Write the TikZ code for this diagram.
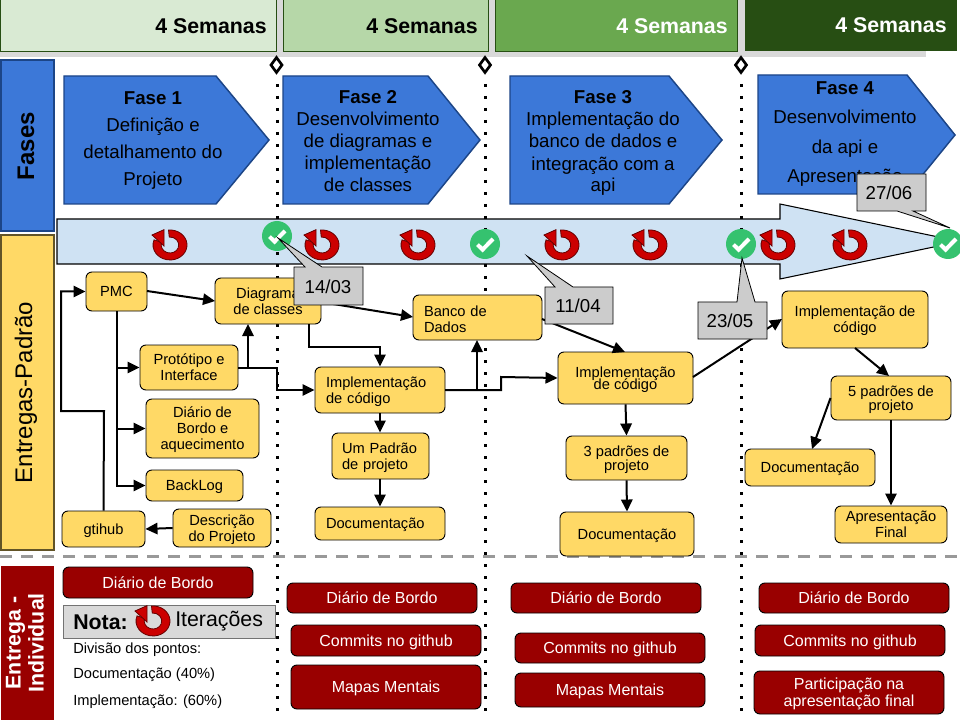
\documentclass[tikz,border=0pt]{standalone}
\usepackage{fontspec}
\setmainfont{Liberation Sans}
\usetikzlibrary{arrows.meta}
\definecolor{hA}{HTML}{D9EAD3}
\definecolor{hB}{HTML}{B6D7A8}
\definecolor{hC}{HTML}{6AA84F}
\definecolor{hD}{HTML}{274E13}
\definecolor{fblue}{HTML}{3C78D8}
\definecolor{fblueD}{HTML}{1C4587}
\definecolor{yel}{HTML}{FFD966}
\definecolor{dred}{HTML}{990000}
\definecolor{band}{HTML}{CFE2F3}
\definecolor{okgreen}{HTML}{35C26F}
\definecolor{iterred}{HTML}{CC0000}
\newcommand{\tightlines}{\lineskiplimit=-10pt\relax}
\tikzset{
  x=.75pt,y=-.75pt,
  header/.style={draw=hD,line width=.75pt},
  headtext/.style={font=\fontsize{16}{18}\selectfont\bfseries,anchor=east,inner sep=0pt,text height=11.5pt,text depth=0pt},
  sidebox/.style={line width=1.1pt},
  phase/.style={fill=fblue,draw=fblueD,line width=1.1pt},
  phasetext/.style={font=\fontsize{14}{16}\selectfont,inner sep=0pt,align=center,text height=10pt,text depth=0pt},
  phasebold/.style={font=\fontsize{14}{16}\selectfont\bfseries,inner sep=0pt,align=center,text height=10pt,text depth=0pt},
  yellowbox/.style={draw=black,fill=yel,rounded corners=4.5pt,line width=.7pt,align=center,inner sep=0pt,font=\fontsize{11}{12}\selectfont,text depth=0pt},
  yellowleft/.style={draw=black,fill=yel,rounded corners=4.5pt,line width=.7pt,align=left,inner sep=0pt,font=\fontsize{11}{12}\selectfont,execute at begin node=\rule{0pt}{10.5pt}},
  redbox/.style={draw=black,fill=dred,text=white,rounded corners=4.5pt,line width=.7pt,align=center,inner sep=0pt,font=\fontsize{12}{12.75}\selectfont,text depth=0pt},
  flow/.style={draw=black,line width=1.5pt,-{Triangle[length=9pt,width=8.5pt]}},
  flowplain/.style={draw=black,line width=1.5pt},
  milestone/.style={draw=black,line width=2.25pt,dash pattern=on 2.25pt off 6.75pt},
  callout/.style={fill=black!20,draw=black,line width=.6pt},
  calltext/.style={font=\fontsize{14}{16}\selectfont,inner sep=0pt,text height=10pt,text depth=0pt},
  plain/.style={inner sep=0pt,anchor=west,font=\fontsize{11}{12}\selectfont,text height=8pt,text depth=0pt},
  okcircle/.pic={
    \fill[okgreen] (0,0) circle[radius=11.25pt];
    \draw[white,line width=3pt] (-5.6pt,-.5pt) -- (-1.8pt,-4.2pt) -- (6pt,3.8pt);
  },
  iter/.pic={
    \path[fill=iterred,draw=black!60!red,line width=.6pt]
      (95:12.75pt and 11.25pt) arc[start angle=95,end angle=-200,x radius=12.75pt,y radius=11.25pt]
      -- (-200:6.6pt and 6pt) arc[start angle=-200,end angle=95,x radius=6.6pt,y radius=6pt] -- cycle;
    \path[fill=iterred,draw=black!60!red,line width=.6pt]
      (-13.5pt,7.5pt) -- (-4.5pt,11.5pt) -- (-4.5pt,-.75pt) -- cycle;
  },
  gate/.style={fill=white,draw=black,line width=2pt,line join=miter}
}
\newcommand{\bx}[7][0]{%
  \pgfmathsetmacro\bxcx{(#4+#6)/2}%
  \pgfmathsetmacro\bxcy{(#5+#7)/2}%
  \pgfmathsetmacro\bxw{(#6-#4)*.75}%
  \pgfmathsetmacro\bxh{(#7-#5)*.75}%
  \bxbody{#1}{#2}{#3}}
\newcommand{\bxbody}[4]{%
  \ifnum#1=0
    \node[#2,minimum width=\bxw pt,minimum height=\bxh pt] (#3) at (\bxcx,\bxcy) {#4};
  \else
    \pgfmathsetmacro\bxtw{\bxw-2*#1*.75}%
    \node[#2,minimum height=\bxh pt,text width=\bxtw pt,inner xsep=#1*.75pt] (#3) at (\bxcx,\bxcy) {#4};
  \fi}
\begin{document}
\begin{tikzpicture}
\useasboundingbox (0,0) rectangle (960,720);
\clip (0,0) rectangle (960,720);
\fill[white] (0,0) rectangle (960,720);
% header shadow
\fill[black!15] (0,0) rectangle (926,57);
\fill[white] (926,0) rectangle (960,51);
% headers
\bx{header,fill=hA}{h1}{0}{0}{276}{52}{}
\bx{header,fill=hB}{h2}{283}{0}{488}{52}{}
\bx{header,fill=hC}{h3}{495}{0}{737}{52}{}
\bx{draw=none,fill=hD}{h4}{745}{0}{957}{51}{}
\node[headtext] (ht1) at (267,26) {4 Semanas};
\node[headtext] (ht2) at (478,26) {4 Semanas};
\node[headtext,text=white] (ht3) at (728,26) {4 Semanas};
\node[headtext,text=white] (ht4) at (947,25) {4 Semanas};
% side bars
\bx{sidebox,fill=fblue,draw=fblueD}{sfases}{1}{60}{54}{231}{}
\bx{sidebox,fill=yel,draw=black!45!yel!70!black}{sentregas}{1}{235}{54}{550}{}
\bx{draw=none,fill=dred}{sind}{1}{566}{54}{720}{}
\node[rotate=90,font=\fontsize{18}{20}\selectfont\bfseries,inner sep=0pt] (tf) at (26,146) {Fases};
\node[rotate=90,font=\fontsize{18}{20}\selectfont,inner sep=0pt] (te) at (26,392.5) {Entregas-Padrão};
\node[rotate=90,font=\fontsize{16}{17.25}\selectfont\bfseries,text=white,inner sep=0pt,align=center] (ti) at (25,643) {Entrega -\\Individual};
% phases
\path[phase] (64,76) -- (216,76) -- (269,140) -- (216,204) -- (64,204) -- cycle;
\path[phase] (283,76) -- (428,76) -- (480,140) -- (428,204) -- (283,204) -- cycle;
\path[phase] (510,76) -- (669,76) -- (722,140) -- (669,204) -- (510,204) -- cycle;
\path[phase] (758,75) -- (907,75) -- (955,135) -- (907,194) -- (758,194) -- cycle;
\node[phasebold] (f1a) at (153,98) {Fase 1};
\node[phasetext] (f1b) at (153,125) {Definição e};
\node[phasetext] (f1c) at (153,152) {detalhamento do};
\node[phasetext] (f1d) at (153,179) {Projeto};
\node[phasebold] (f2a) at (368,97) {Fase 2};
\node[phasetext] (f2b) at (368,119) {Desenvolvimento};
\node[phasetext] (f2c) at (368,141) {de diagramas e};
\node[phasetext] (f2d) at (368,163) {implementação};
\node[phasetext] (f2e) at (368,185) {de classes};
\node[phasebold] (f3a) at (603,97) {Fase 3};
\node[phasetext] (f3b) at (603,119) {Implementação do};
\node[phasetext] (f3c) at (603,141) {banco de dados e};
\node[phasetext] (f3d) at (603,164) {integração com a};
\node[phasetext] (f3e) at (603,185) {api};
\node[phasebold] (f4a) at (845,88) {Fase 4};
\node[phasetext] (f4b) at (845,117) {Desenvolvimento};
\node[phasetext] (f4c) at (845,147) {da api e};
\node[phasetext] (f4d) at (845,176) {Apresentação};
% timeline band
\path[fill=band,draw=black,line width=.8pt] (57,219) -- (780,219) -- (780,204) -- (960,241.5) -- (780,279) -- (780,264) -- (57,264) -- cycle;
% milestones
\coordinate (m1a) at (277,84); \coordinate (m1b) at (277,720);
\coordinate (m2a) at (485,84); \coordinate (m2b) at (485,720);
\coordinate (m3a) at (741,84); \coordinate (m3b) at (741,720);
\draw[milestone] (m1a) -- (m1b);
\draw[milestone] (m2a) -- (m2b);
\draw[milestone] (m3a) -- (m3b);
\foreach \mx in {276.5,485,741}{
  \path[gate] (\mx,57.5) -- (\mx+5.5,65) -- (\mx,72.5) -- (\mx-5.5,65) -- cycle;
}
% section divider
\coordinate (dva) at (0,556); \coordinate (dvb) at (960,556);
\draw[black!40,line width=2.25pt,dash pattern=on 9pt off 6.75pt] (dva) -- (dvb);
% iteration icons
\foreach \ix in {170,322,418,562,650,778,850}{
  \pic at (\ix,245) {iter};
}
% yellow boxes
\bx{yellowbox}{pmc}{86}{272}{147}{311}{PMC}
\bx{yellowbox}{diag}{215}{278}{321}{324}{Diagrama\\de classes}
\bx{yellowbox}{prot}{140}{345}{238}{390}{Protótipo e\\Interface}
\bx{yellowbox}{diar}{146}{399}{259}{458}{Diário de\\Bordo e\\aquecimento}
\bx{yellowbox}{back}{146}{470}{243}{501}{BackLog}
\bx{yellowbox}{git}{62}{511}{145}{547}{gtihub}
\bx{yellowbox}{desc}{173}{509}{271}{547}{Descrição\\do Projeto}
\bx[11]{yellowleft}{imp1}{315}{367}{445}{413}{Implementação\\de código}
\bx[10]{yellowleft}{pad1}{332}{433}{429}{479}{Um Padrão\\de projeto}
\bx[11]{yellowleft}{doc1}{315}{507}{445}{540}{Documentação}
\bx[11]{yellowleft}{banco}{413}{295}{542}{340}{Banco de\\Dados}
\bx{yellowbox,font=\fontsize{11}{9}\selectfont\tightlines}{imp2}{558}{352}{693}{404}{Implementação\\de código}
\bx{yellowbox,font=\fontsize{11}{10.5}\selectfont\tightlines}{pad3}{566}{436}{687}{480}{3 padrões de\\projeto}
\bx{yellowbox}{doc2}{560}{512}{694}{556}{Documentação}
\bx{yellowbox}{imp3}{782}{291}{928}{348}{Implementação de\\código}
\bx{yellowbox,font=\fontsize{11}{10.5}\selectfont\tightlines}{pad5}{831}{376}{951}{420}{5 padrões de\\projeto}
\bx{yellowbox}{doc3}{745}{449}{875}{486}{Documentação}
\bx{yellowbox}{apre}{835}{506}{947}{543}{Apresentação\\Final}
% connectors
\coordinate (g1) at (104,411); \coordinate (g2) at (61,411); \coordinate (g3) at (61,291.5);
\draw[flow] (git.north) -- (g1) -- (g2) -- (g3) -- (pmc.west);
\coordinate (pd) at (215,301);
\draw[flow] (147,291) -- (pd);
\draw[flow] (pmc.south) |- (prot.west);
\draw[flow] (pmc.south) |- (diar.west);
\draw[flow] (pmc.south) |- (back.west);
\draw[flow] (desc.west) -- (git.east);
\coordinate (pu1) at (248,367.5); \coordinate (pu2) at (248,324);
\draw[flow] (pu1) -- (pu2);
\coordinate (pr1) at (277,367.5); \coordinate (pr2) at (277,390);
\draw[flow] (prot.east) -- (pr1) -- (pr2) -- (imp1.west);
\coordinate (db1) at (321,302); \coordinate (db2) at (413,317);
\draw[flow] (db1) -- (db2);
\coordinate (di1) at (309,324); \coordinate (di2) at (309,347); \coordinate (di3) at (380,347);
\draw[flow] (di1) -- (di2) -- (di3) -- (imp1.north);
\coordinate (ib1) at (477,390); \coordinate (ib2) at (477,340);
\draw[flow] (imp1.east) -- (ib1) -- (ib2);
\coordinate (ii1) at (501,390); \coordinate (ii2) at (501,377);
\draw[flow] (imp1.east) -- (ii1) -- (ii2) -- (imp2.west);
\coordinate (bi1) at (542,319); \coordinate (bi2) at (625,352);
\draw[flow] (bi1) -- (bi2);
\coordinate (i3a) at (693,377); \coordinate (i3b) at (782,319);
\draw[flow] (i3a) -- (i3b);
\draw[flow] (imp1.south) -- (pad1.north -| imp1.south);
\draw[flow] (pad1.south -| imp1.south) -- (doc1.north);
\draw[flow] (imp2.south) -- (pad3.north);
\draw[flow] (pad3.south) -- (doc2.north);
\coordinate (c5a) at (855,348); \coordinate (c5b) at (889,376);
\draw[flow] (c5a) -- (c5b);
\coordinate (c6a) at (830.5,398); \coordinate (c6b) at (812,449);
\draw[flow] (c6a) -- (c6b);
\draw[flow] (pad5.south) -- (apre.north);
% red boxes
\bx{redbox}{r0}{63}{567}{253}{598}{Diário de Bordo}
\bx{redbox}{r1}{287}{583}{477}{613}{Diário de Bordo}
\bx{redbox}{r2}{291}{625}{481}{656}{Commits no github}
\bx{redbox}{r3}{291}{665}{481}{709}{Mapas Mentais}
\bx{redbox}{r4}{511}{583}{701}{613}{Diário de Bordo}
\bx{redbox}{r5}{515}{633}{705}{663}{Commits no github}
\bx{redbox}{r6}{515}{673}{705}{707}{Mapas Mentais}
\bx{redbox}{r7}{759}{583}{949}{613}{Diário de Bordo}
\bx{redbox}{r8}{755}{625}{945}{656}{Commits no github}
\bx{redbox}{r9}{754}{671}{944}{714}{Participação na\\apresentação final}
% note
\bx{fill=black!15,draw=black!55,line width=.7pt}{nota}{63}{605}{275}{638}{}
\node[inner sep=0pt,anchor=west,font=\fontsize{16}{18}\selectfont\bfseries,text height=11.5pt,text depth=0pt] (nt) at (73,622) {Nota:};
\pic at (153,621) {iter};
\node[inner sep=0pt,anchor=west,font=\fontsize{16}{18}\selectfont,text height=11.5pt,text depth=0pt] (ni) at (175,619) {Iterações};
\node[plain] (p1) at (73,648) {Divisão dos pontos:};
\node[plain] (p2) at (73,673) {Documentação (40\%)};
\node[plain] (p3) at (73,700) {Implementação: (60\%)};
% ok marks
\pic at (277,236) {okcircle};
\pic at (485,244) {okcircle};
\pic at (741,244) {okcircle};
\pic at (948,244) {okcircle};
% callouts
\path[callout] (294,267) -- (305,267) -- (278,238) -- (322,267) -- (363,267) -- (363,305) -- (294,305) -- cycle;
\node[calltext] (c1) at (328,287) {14/03};
\path[callout] (545,287) -- (555,287) -- (527,256) -- (573,287) -- (613,287) -- (613,324) -- (545,324) -- cycle;
\node[calltext] (c2) at (578,306) {11/04};
\path[callout] (698,302) -- (737,302) -- (742,258) -- (755,302) -- (767,302) -- (767,339) -- (698,339) -- cycle;
\node[calltext] (c3) at (730,321) {23/05};
\path[callout] (857,174) -- (926,174) -- (926,211) -- (913,211) -- (950,228) -- (897,211) -- (857,211) -- cycle;
\node[calltext] (c4) at (889,193) {27/06};
\end{tikzpicture}
\end{document}
